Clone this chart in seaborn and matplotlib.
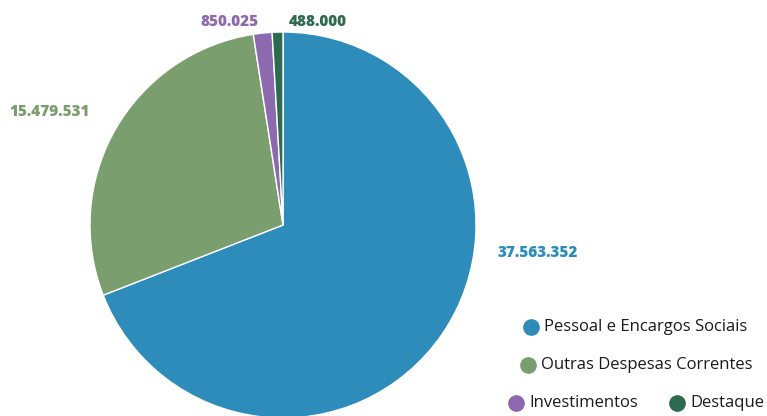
import matplotlib
matplotlib.use("Agg")
import matplotlib.pyplot as plt
import seaborn as sns

categories = ["Pessoal e Encargos Sociais", "Outras Despesas Correntes", "Investimentos", "Destaque"]
values = [37563352, 15479531, 850025, 488000]
value_labels = ["37.563.352", "15.479.531", "850.025", "488.000"]
colors = ["#2e8cbb", "#7b9e6f", "#8d69af", "#2d6a4f"]

sns.set_theme(style="white")
plt.rcParams["font.family"] = ["Open Sans", "DejaVu Sans"]

W, H = 767, 416
fig = plt.figure(figsize=(W / 100, H / 100), dpi=100)
ax = fig.add_axes([0, 0, 1, 1])

palette = sns.color_palette(colors)
ax.pie(values, colors=palette, startangle=90, counterclock=False,
       center=(283, H - 225), radius=193,
       wedgeprops=dict(edgecolor="white", linewidth=1))

# pie() resets the view, so fix the pixel-like coordinate system afterwards
ax.set_xlim(0, W)
ax.set_ylim(0, H)
ax.set_aspect("equal")
ax.axis("off")

# value labels (pixel positions from top-left)
label_pos = [(538, 253), (50, 112), (230, 22), (318, 22)]
for (x, y), txt, c in zip(label_pos, value_labels, palette):
    ax.text(x, H - y, txt, color=c, fontsize=11, fontweight="heavy",
            ha="center", va="center")

# legend, wrapped in rows like the original
legend_items = [(531, 327, 0), (528, 365, 1), (516, 403, 2), (677, 403, 3)]
for x, y, i in legend_items:
    ax.plot(x, H - y, "o", ms=11, color=palette[i], clip_on=False)
    ax.text(x + 13, H - y, categories[i], fontsize=12, color="#1a1a1a",
            ha="left", va="center")

fig.savefig("out.png", dpi=100)
